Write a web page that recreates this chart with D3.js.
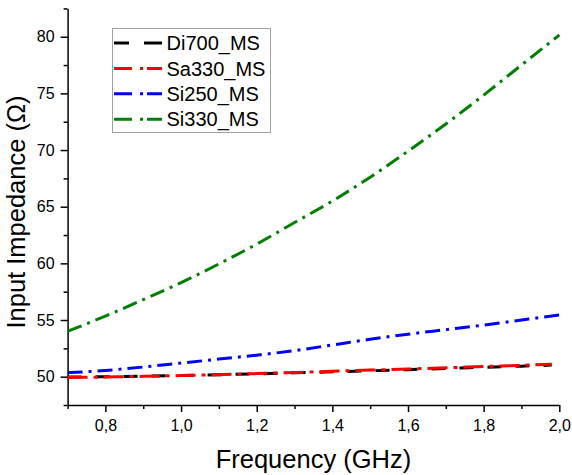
<!DOCTYPE html>
<html>
<head>
<meta charset="utf-8">
<script src="https://cdn.jsdelivr.net/npm/d3@7"></script>
<style>
  html, body { margin: 0; padding: 0; background: #fff; }
  svg { display: block; font-family: "Liberation Sans", Arial, sans-serif; }
</style>
</head>
<body>
<svg id="chart" width="572" height="475"></svg>
<script>
// ---- data ----
const freq = [0.7, 0.8, 0.9, 1.0, 1.1, 1.2, 1.3, 1.4, 1.5, 1.6, 1.7, 1.8, 1.9, 2.0];
const freqShort = [0.7, 0.8, 0.9, 1.0, 1.1, 1.2, 1.3, 1.4, 1.5, 1.6, 1.7, 1.8, 1.9, 1.98];
const di700 = [49.97, 50.0, 50.05, 50.1, 50.17, 50.25, 50.34, 50.43, 50.52, 50.62, 50.72, 50.83, 50.93, 51.02];
const sa330 = [49.92, 49.97, 50.03, 50.1, 50.18, 50.27, 50.37, 50.48, 50.58, 50.68, 50.78, 50.9, 51.0, 51.1];
const si250 = [50.35, 50.55, 50.85, 51.2, 51.55, 51.9, 52.3, 52.8, 53.3, 53.75, 54.15, 54.55, 55.0, 55.45];
const si330 = [54.0, 55.35, 56.8, 58.3, 59.95, 61.7, 63.6, 65.5, 67.6, 69.9, 72.3, 74.85, 77.5, 80.15];
const seriesNames = ["Di700_MS", "Sa330_MS", "Si250_MS", "Si330_MS"];
const seriesColors = ["#000000", "#ff0000", "#0000ff", "#008000"];
const xMajorTicks = [0.8, 1.0, 1.2, 1.4, 1.6, 1.8, 2.0];
const xMinorTicks = [0.7, 0.9, 1.1, 1.3, 1.5, 1.7, 1.9];
const yMajorTicks = [50, 55, 60, 65, 70, 75, 80];
const yMinorTicks = [47.5, 52.5, 57.5, 62.5, 67.5, 72.5, 77.5, 82.5];
const xTitle = "Frequency (GHz)";
const yTitle = "Input Impedance (Ω)";

// ---- layout ----
const svg = d3.select("#chart");
const mLeft = 67.6, mRight = 559.3, mTop = 8.4, mBottom = 405;
const x = d3.scaleLinear().domain([0.7, 2.0]).range([mLeft, mRight]);
const y = d3.scaleLinear().domain([47.5, 82.5]).range([mBottom, mTop]);

svg.append("rect").attr("width", 572).attr("height", 475).attr("fill", "#fff");

const fmt = d => d3.format(".1f")(d).replace(".", ",");

// x axis
const gx = svg.append("g").attr("transform", `translate(0,${mBottom})`);
gx.call(d3.axisBottom(x).tickValues(xMajorTicks).tickFormat(fmt).tickSizeInner(7).tickSizeOuter(0).tickPadding(8));
gx.append("g").call(d3.axisBottom(x).tickValues(xMinorTicks).tickFormat("").tickSizeInner(4).tickSizeOuter(0))
  .select(".domain").remove();
// y axis
const gy = svg.append("g").attr("transform", `translate(${mLeft},0)`);
gy.call(d3.axisLeft(y).tickValues(yMajorTicks).tickFormat(d3.format("d")).tickSizeInner(7).tickSizeOuter(0).tickPadding(6));
gy.append("g").call(d3.axisLeft(y).tickValues(yMinorTicks).tickFormat("").tickSizeInner(4).tickSizeOuter(0))
  .select(".domain").remove();

svg.selectAll(".domain").attr("stroke", "#000").attr("stroke-width", 1.5);
svg.selectAll(".tick line").attr("stroke", "#000").attr("stroke-width", 1.5);
svg.selectAll(".tick text").attr("fill", "#000").style("font-size", "16px")
  .style("font-family", '"Liberation Sans", Arial, sans-serif');

// titles
svg.append("text").attr("x", (mLeft + mRight) / 2).attr("y", 468).attr("text-anchor", "middle")
  .style("font-size", "25.5px").attr("fill", "#000").text(xTitle);
svg.append("text").attr("transform", "translate(25,212) rotate(-90)").attr("text-anchor", "middle")
  .style("font-size", "25.5px").attr("fill", "#000").text(yTitle);

// lines
const dashes = ["14,14", "20,6,4,6", "15,6,3,6", "15,6,3,6"];
const datasets = [
  { xs: freqShort, ys: di700 },
  { xs: freqShort, ys: sa330 },
  { xs: freq, ys: si250 },
  { xs: freq, ys: si330 }
];
const line = d3.line().x(d => x(d[0])).y(d => y(d[1])).curve(d3.curveMonotoneX);
datasets.forEach((ds, i) => {
  const pts = ds.xs.map((f, k) => [f, ds.ys[k]]);
  svg.append("path").datum(pts).attr("d", line).attr("fill", "none")
    .attr("stroke", seriesColors[i]).attr("stroke-width", 3)
    .attr("stroke-dasharray", dashes[i]);
});

// legend
const lg = svg.append("g");
lg.append("rect").attr("x", 112.5).attr("y", 28.5).attr("width", 158).attr("height", 104)
  .attr("fill", "#fff").attr("stroke", "#a0a0a0").attr("stroke-width", 1);
const legendDash = ["15,15,18,100", "18,8,3,4,16,100", "18,8,3,4,16,100", "18,8,3,4,16,100"];
seriesNames.forEach((name, i) => {
  const cy = 43 + i * 25.4;
  lg.append("line").attr("x1", 114).attr("x2", 162).attr("y1", cy).attr("y2", cy)
    .attr("stroke", seriesColors[i]).attr("stroke-width", 3).attr("stroke-dasharray", legendDash[i]);
  lg.append("text").attr("x", 166.5).attr("y", cy + 7.2).style("font-size", "20px")
    .attr("fill", "#000").text(name);
});
</script>
</body>
</html>
